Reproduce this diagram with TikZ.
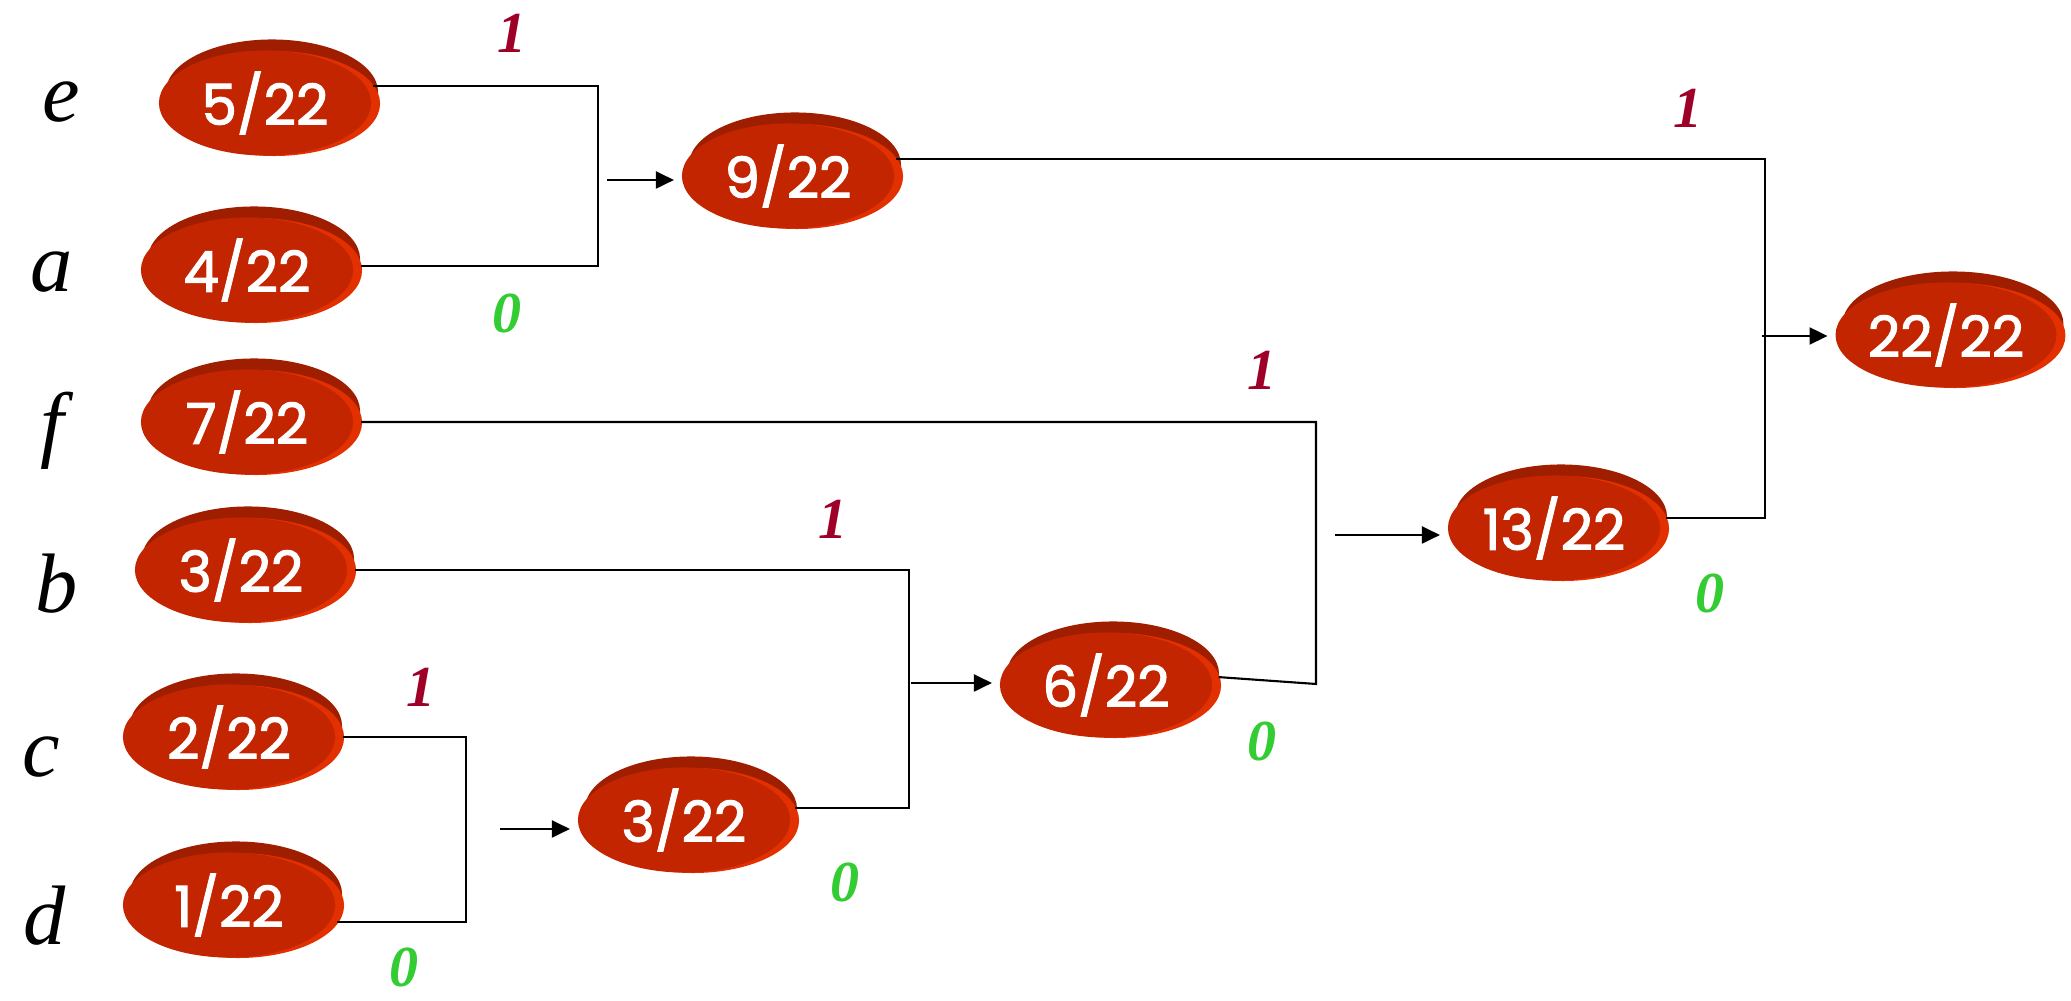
\documentclass[tikz,border=0pt]{standalone}
\usepackage{fontspec}
\usetikzlibrary{arrows.meta,shapes.geometric}
\newfontfamily\probfont{Poppins}[FakeBold=2]
\newfontfamily\leaffont{Liberation Serif}
\definecolor{probred}{RGB}{194,37,0}
\definecolor{probdark}{RGB}{160,30,0}
\definecolor{probrim}{RGB}{226,48,0}
\definecolor{onered}{RGB}{158,0,40}
\definecolor{zerogreen}{RGB}{51,204,51}

\begin{document}
\begin{tikzpicture}[
x=0.01cm, y=-0.01cm,
prob/.style={ellipse, minimum width=2.12cm, minimum height=1.05cm, inner sep=0pt,
  outer xsep=0.08cm, outer ysep=0pt, fill=probred, text=white,
  font=\probfont\fontsize{16}{16}\selectfont,
  preaction={fill=probdark, transform canvas={shift={(0.07cm,0.11cm)}}},
  preaction={fill=probrim, transform canvas={shift={(0.09cm,-0.005cm)}}}},
leaf/.style={anchor=base, font=\leaffont\itshape\fontsize{24}{24}\selectfont},
onelbl/.style={text=onered, font=\leaffont\bfseries\itshape\fontsize{16.5}{16.5}\selectfont},
zerolbl/.style={text=zerogreen, font=\leaffont\bfseries\itshape\fontsize{16.5}{16.5}\selectfont},
link/.style={line width=0.6pt},
arrow/.style={-{Triangle[length=1.8mm,width=1.7mm]}, line width=0.6pt}
]
\useasboundingbox (0,0) rectangle (2071,1001);

% symbols
\node[leaf] (le) at (61,122) {e};
\node[leaf] (la) at (52,292) {a};
\node[leaf] (lf) at (52,452) {f};
\node[leaf] (lb) at (57,613) {b};
\node[leaf] (lc) at (41,777) {c};
\node[leaf] (ld) at (45,945) {d};

% probabilities
\node[prob] (e5) at (265,103) {5/22};
\node[prob] (a4) at (247,270) {4/22};
\node[prob] (f7) at (247,422) {7/22};
\node[prob] (b3) at (241,570) {3/22};
\node[prob] (c2) at (229,737) {2/22};
\node[prob] (d1) at (229,905) {1/22};
\node[prob] (n3) at (684,820) {3/22};
\node[prob] (n9) at (788,176) {9/22};
\node[prob] (n6) at (1106,685) {6/22};
\node[prob] (n13) at (1554,528) {13/22};
\node[prob] (n22) at (1946,335) {22/22};

% joins
\coordinate (j0) at (466,829);
\coordinate (j1) at (598,180);
\coordinate (j2) at (909,683);
\coordinate (j3) at (1316,684);
\coordinate (j4) at (1765,336);
\coordinate (s0) at (500,829);
\coordinate (s1) at (607,180);
\coordinate (s2) at (911,683);
\coordinate (s3) at (1335,535);
\coordinate (s4) at (1762,336);

\draw[link] (c2.east) -| (j0) |- (d1.-9);
\draw[link] (e5.9) -| (j1) |- (a4.2);
\draw[link] (b3.east) -| (j2) |- (n3.6);
\draw[link] (f7.east) -| (j3) -- (n6.4);
\draw[link] (n9.9) -| (j4) |- (n13.5);

\draw[arrow] (s0) -- (s0 -| n3.west);
\draw[arrow] (s1) -- (s1 -| n9.west);
\draw[arrow] (s2) -- (s2 -| n6.west);
\draw[arrow] (s3) -- (s3 -| n13.west);
\draw[arrow] (s4) -- (s4 -| n22.west);

% code bits
\node[onelbl] (be) at (512,33) {1};
\node[zerolbl] (ba) at (507,314) {0};
\node[onelbl] (bc) at (421,687) {1};
\node[zerolbl] (bd) at (404,967) {0};
\node[onelbl] (bb) at (833,519) {1};
\node[zerolbl] (b3z) at (845,882) {0};
\node[onelbl] (bf) at (1262,370) {1};
\node[zerolbl] (b6z) at (1262,742) {0};
\node[onelbl] (b9) at (1688,108) {1};
\node[zerolbl] (b13z) at (1710,594) {0};
\end{tikzpicture}
\end{document}
